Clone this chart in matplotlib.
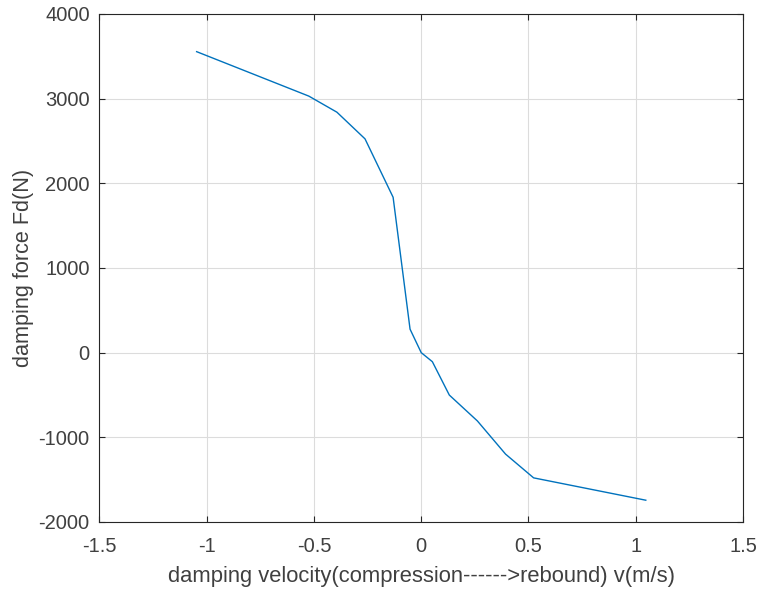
import matplotlib
matplotlib.use("Agg")
import matplotlib.pyplot as plt

# damper characteristic
velocity = [-1.047, -0.524, -0.393, -0.262, -0.131, -0.052, 0.0,
            0.052, 0.131, 0.262, 0.393, 0.524, 1.047]
force = [3555, 3030, 2840, 2525, 1835, 277, 0,
         -107, -501, -807, -1198, -1479, -1743]

x_ticks = [-1.5, -1, -0.5, 0, 0.5, 1, 1.5]
x_tick_labels = ["-1.5", "-1", "-0.5", "0", "0.5", "1", "1.5"]
y_ticks = [-2000, -1000, 0, 1000, 2000, 3000, 4000]

plt.rcParams["font.family"] = ["Liberation Sans", "DejaVu Sans"]
plt.rcParams["axes.unicode_minus"] = False
dark = "#262626"
grey = "#404040"

fig = plt.figure(figsize=(7.61, 5.90), dpi=100)
ax = fig.add_axes([0.1307, 0.1153, 0.8456, 0.861])

ax.plot(velocity, force, color="#0072BD", linewidth=1.0)

ax.set_xlim(-1.5, 1.5)
ax.set_ylim(-2000, 4000)
ax.set_xticks(x_ticks)
ax.set_xticklabels(x_tick_labels)
ax.set_yticks(y_ticks)
ax.grid(True, color="#dcdcdc", linewidth=0.8)
ax.set_axisbelow(True)

ax.tick_params(direction="in", length=4, width=0.8, colors=dark,
               labelsize=14.5, labelcolor=grey, top=True, right=True)
ax.tick_params(axis="x", pad=11)
ax.tick_params(axis="y", pad=7)
for s in ax.spines.values():
    s.set_color(dark)
    s.set_linewidth(0.8)

ax.set_xlabel("damping velocity(compression------>rebound) v(m/s)",
              fontsize=15.8, color=grey, labelpad=7)
ax.set_ylabel("damping force Fd(N)", fontsize=15.6, color=grey, labelpad=3)

fig.savefig("out.png", dpi=100)
